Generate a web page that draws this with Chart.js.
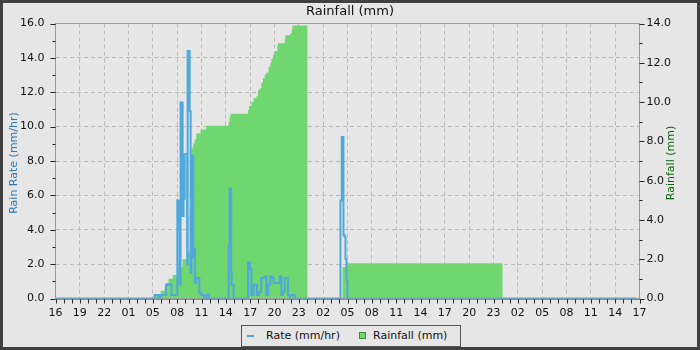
<!DOCTYPE html>
<html>
<head>
<meta charset="utf-8">
<script src="https://cdn.jsdelivr.net/npm/chart.js@4.4.1/dist/chart.umd.min.js"></script>
<style>
	html, body { margin: 0; padding: 0; background: #e6e6e6; }
	#wrap { position: relative; width: 700px; height: 350px; background: #e6e6e6; font-family: "DejaVu Sans", sans-serif; }
	#wrap canvas { position: absolute; left: 0; top: 0; }
	#frame { position: absolute; left: 0; top: 0; width: 700px; height: 350px; box-sizing: border-box; border: 3px solid #404040; pointer-events: none; }
	#legend { position: absolute; left: 241px; top: 325px; width: 220px; height: 22px; box-sizing: border-box; border: 1px solid #555; background: #e6e6e6; font-size: 11px; color: #111; }
	#legend span { position: absolute; }
	#legend .txt { top: 0; line-height: 20px; white-space: nowrap; }
	#legend .dash { left: 5px; top: 9px; width: 7px; height: 2px; background: #4ea8dc; }
	#legend .box { left: 117px; top: 6px; width: 7px; height: 7px; background: #70d670; border: 1px solid #3b8a3b; box-sizing: border-box; }
</style>
</head>
<body>
<div id="wrap">
	<canvas id="rain-chart" width="700" height="350"></canvas>
	<div id="legend">
		<span class="dash"></span><span class="txt" style="left:24px">Rate (mm/hr)</span>
		<span class="box"></span><span class="txt" style="left:131px">Rainfall (mm)</span>
	</div>
	<div id="frame"></div>
</div>
<script>
(function() {
	'use strict';

	// x axis: hours since first label, one label every 3 hours
	var xLabels = ['16', '19', '22', '01', '05', '08', '11', '14', '17', '20', '23', '02', '05',
		'08', '11', '14', '17', '20', '23', '02', '05', '08', '11', '14', '17'];

	// rain rate (mm/hr), stepped: each value holds until the next hour mark
	var rateHours = [0, 12.22, 12.71, 12.96, 13.64, 14.31, 15.02, 15.18, 15.30, 15.42, 15.67, 15.79, 15.92,
		16.23, 16.29, 16.54, 16.66, 16.75, 16.99, 17.07, 17.19, 17.28, 17.73, 17.98, 18.30, 18.60, 18.92,
		21.35, 21.47, 21.66, 21.72, 21.96, 23.73, 23.98, 24.15, 24.43, 24.84, 25.09, 25.38, 25.79, 26.00,
		26.20, 26.49, 26.69, 26.90, 27.64, 27.85, 28.05, 28.26, 28.66, 28.87, 28.96, 29.49,
		35.13, 35.29, 35.50, 35.62, 35.75, 35.87, 35.99, 71.53];
	var rateValues = [0, 0.2, 0, 0.2, 0.8, 0.2, 5.7, 4.0, 0.8, 11.4, 4.8, 5.8, 8.4,
		2.0, 14.4, 10.9, 1.5, 8.3, 2.4, 2.9, 0.9, 1.2, 0.3, 0.2, 0, 0.2, 0,
		3.1, 6.4, 1.5, 0.8, 0, 2.1, 1.7, 0.2, 0.8, 0.2, 0.4, 1.2, 1.3, 0.2,
		0.8, 1.3, 1.2, 0.9, 1.3, 0.2, 0.4, 1.2, 0.2, 0, 0.2, 0,
		5.7, 9.4, 3.7, 3.6, 2.3, 1.0, 0, 0];

	// daily rainfall total (mm), resets at midnight
	var rainHours = [0, 12.22, 12.96, 13.45, 13.70, 13.94, 14.44, 15.05, 15.67, 16.29,
		16.54, 16.66, 16.75, 16.87, 16.99, 17.15, 17.36, 17.89, 18.57, 21.35,
		21.47, 21.59, 23.73, 23.85, 24.15, 24.43, 24.76, 24.96, 25.17, 25.38,
		25.58, 25.79, 26.00, 26.28, 26.49, 26.62, 26.81, 27.02, 27.36, 27.43,
		28.26, 28.34, 28.96, 29.12, 29.21, 31.06, 35.38, 35.99, 55.12, 72];
	var rainValues = [0, 0.2, 0.4, 0.6, 0.8, 1.0, 1.2, 1.6, 2.0, 2.4,
		4.6, 6.5, 7.6, 7.7, 7.9, 8.1, 8.4, 8.6, 8.8, 9.0,
		9.3, 9.4, 9.6, 9.8, 10.0, 10.2, 10.3, 10.6, 10.7, 11.0,
		11.2, 11.4, 11.5, 11.8, 12.0, 12.2, 12.4, 12.6, 12.9, 13.0,
		13.2, 13.4, 13.5, 13.7, 13.9, 0, 1.6, 1.8, 0, 0];

	function points(xs, ys) {
		return xs.map(function(x, i) { return { x: x, y: ys[i] }; });
	}

	var GRID = '#bababa';
	var NONE = 'rgba(0,0,0,0)';

	Chart.defaults.font.family = '"DejaVu Sans", sans-serif';
	Chart.defaults.color = '#111';

	// solid plot frame (gridlines are dashed)
	var frame = {
		id: 'frame',
		beforeDatasetsDraw: function(chart) {
			var a = chart.chartArea, ctx = chart.ctx;
			ctx.save();
			ctx.strokeStyle = '#9a9a9a';
			ctx.lineWidth = 1;
			ctx.strokeRect(a.left, a.top, a.right - a.left, a.bottom - a.top);
			ctx.restore();
		},
		afterDatasetsDraw: function(chart) {
			var a = chart.chartArea, ctx = chart.ctx;
			ctx.save();
			ctx.strokeStyle = '#8a8a8a';
			ctx.beginPath();
			ctx.moveTo(a.left, a.bottom + 1);
			ctx.lineTo(a.right, a.bottom + 1);
			ctx.stroke();
			ctx.restore();
		}
	};

	// major / minor tick marks
	var tickMarks = {
		id: 'tickMarks',
		afterDraw: function(chart) {
			var ctx = chart.ctx, s = chart.scales;
			ctx.save();
			ctx.strokeStyle = '#222';
			ctx.lineWidth = 1;
			ctx.beginPath();
			s.x.ticks.forEach(function(t) {
				var px = Math.round(s.x.getPixelForValue(t.value)) + 0.5;
				ctx.moveTo(px, s.x.top + 1);
				ctx.lineTo(px, s.x.top + 5);
			});
			s.y.ticks.forEach(function(t) {
				var py = Math.round(s.y.getPixelForValue(t.value)) + 0.5;
				var len = t.value % 2 === 0 ? 5 : 3;
				ctx.moveTo(s.y.right - len, py);
				ctx.lineTo(s.y.right, py);
			});
			s.y2.ticks.forEach(function(t) {
				var py = Math.round(s.y2.getPixelForValue(t.value)) + 0.5;
				var len = t.value % 2 === 0 ? 5 : 3;
				ctx.moveTo(s.y2.left, py);
				ctx.lineTo(s.y2.left + len, py);
			});
			ctx.stroke();
			ctx.restore();
		}
	};

	// both axis titles read bottom-to-top
	var axisTitles = {
		id: 'axisTitles',
		afterDraw: function(chart) {
			var ctx = chart.ctx, a = chart.chartArea;
			var cy = (a.top + a.bottom) / 2 + 2;
			ctx.save();
			ctx.font = '11px "DejaVu Sans"';
			ctx.textAlign = 'center';
			ctx.textBaseline = 'middle';
			[[14, 'Rain Rate (mm/hr)', '#2f78b4'], [671, 'Rainfall (mm)', '#0d660d']].forEach(function(t) {
				ctx.save();
				ctx.translate(t[0], cy);
				ctx.rotate(-Math.PI / 2);
				ctx.fillStyle = t[2];
				ctx.fillText(t[1], 0, 0);
				ctx.restore();
			});
			ctx.restore();
		}
	};

	new Chart(document.getElementById('rain-chart'), {
		type: 'line',
		data: {
			datasets: [{
				label: 'Rate (mm/hr)',
				data: points(rateHours, rateValues),
				yAxisID: 'y',
				stepped: true,
				borderColor: '#4ea8dc',
				borderWidth: 2,
				pointRadius: 0,
				fill: false
			}, {
				label: 'Rainfall (mm)',
				data: points(rainHours, rainValues),
				yAxisID: 'y2',
				stepped: true,
				borderColor: NONE,
				borderWidth: 0,
				backgroundColor: '#70d670',
				pointRadius: 0,
				fill: 'origin'
			}]
		},
		options: {
			responsive: false,
			animation: false,
			layout: { padding: { left: 0, right: 0, top: 0, bottom: 30 } },
			plugins: {
				legend: { display: false },
				tooltip: { enabled: false },
				title: {
					display: true,
					text: 'Rainfall (mm)',
					color: '#111',
					font: { size: 13, weight: 'normal' },
					padding: { top: 4, bottom: 3.9 }
				}
			},
			scales: {
				x: {
					type: 'linear',
					min: 0,
					max: 72,
					afterFit: function(s) { s.height = 21.5; },
					ticks: {
						stepSize: 1,
						autoSkip: false,
						maxRotation: 0,
						padding: 8,
						font: { size: 11 },
						callback: function(v) { return v % 3 === 0 ? xLabels[v / 3] : ''; }
					},
					grid: {
						drawTicks: false,
						color: function(c) { return c.tick && c.tick.value % 3 === 0 ? GRID : NONE; }
					},
					border: { display: false, dash: [4, 3] }
				},
				y: {
					position: 'left',
					min: 0,
					max: 16,
					afterFit: function(s) { s.width = 55.5; },
					ticks: {
						stepSize: 1,
						autoSkip: false,
						padding: 11,
						font: { size: 11 },
						callback: function(v) { return v % 2 === 0 ? v.toFixed(1) : ''; }
					},
					grid: {
						drawTicks: false,
						color: function(c) { return c.tick && c.tick.value % 2 === 0 ? GRID : NONE; }
					},
					border: { display: false, dash: [4, 3] }
				},
				y2: {
					position: 'right',
					min: 0,
					max: 14,
					afterFit: function(s) { s.width = 60.5; },
					ticks: {
						stepSize: 1,
						autoSkip: false,
						padding: 7,
						font: { size: 11 },
						callback: function(v) { return v % 2 === 0 ? v.toFixed(1) : ''; }
					},
					grid: { drawOnChartArea: false, drawTicks: false },
					border: { display: false }
				}
			}
		},
		plugins: [frame, tickMarks, axisTitles]
	});
})();
</script>
</body>
</html>
